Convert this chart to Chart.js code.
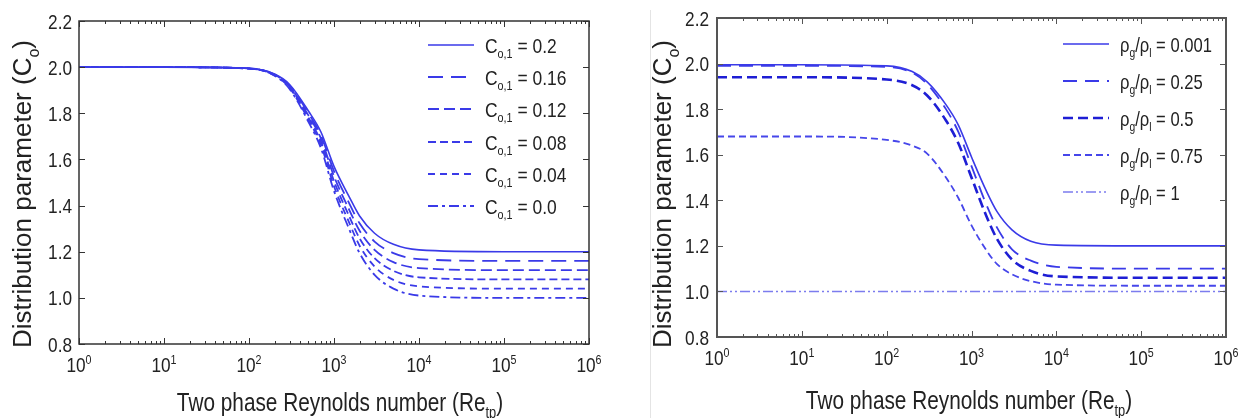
<!DOCTYPE html>
<html>
<head>
<meta charset="utf-8">
<script src="https://cdn.jsdelivr.net/npm/chart.js@4.4.1/dist/chart.umd.min.js"></script>
<style>
  html, body { margin: 0; padding: 0; background: #fff; }
  #wrap { position: relative; width: 1241px; height: 418px; overflow: hidden; }
  #leftChart { position: absolute; left: 0; top: 0; }
  #rightChart { position: absolute; left: 620px; top: 0; }
</style>
</head>
<body>
<div id="wrap">
  <canvas id="leftChart" width="620" height="418"></canvas>
  <canvas id="rightChart" width="621" height="418"></canvas>
</div>
<script>
const FONT = '"Liberation Sans", Arial, sans-serif';

const reynolds = [1, 10, 100, 200, 300, 500, 700, 1000, 1500, 2000, 3000, 5000, 10000, 100000, 1000000];
const decades = [0, 1, 2, 3, 4, 5, 6];
const yTicks = [0.8, 1.0, 1.2, 1.4, 1.6, 1.8, 2.0, 2.2];

// left panel: C_o,1 series
const co1Labels = ['0.2', '0.16', '0.12', '0.08', '0.04', '0.0'];
const co1_020 = [2.0, 2.0, 1.995, 1.97, 1.925, 1.81, 1.72, 1.57, 1.44, 1.355, 1.28, 1.232, 1.208, 1.2, 1.2];
const co1_016 = [2.0, 2.0, 1.995, 1.968, 1.921, 1.80, 1.706, 1.549, 1.412, 1.323, 1.244, 1.194, 1.168, 1.16, 1.16];
const co1_012 = [2.0, 2.0, 1.995, 1.967, 1.917, 1.791, 1.692, 1.527, 1.384, 1.291, 1.208, 1.155, 1.129, 1.12, 1.12];
const co1_008 = [2.0, 2.0, 1.994, 1.966, 1.914, 1.782, 1.678, 1.506, 1.356, 1.258, 1.172, 1.117, 1.089, 1.08, 1.08];
const co1_004 = [2.0, 2.0, 1.994, 1.964, 1.91, 1.772, 1.664, 1.484, 1.328, 1.226, 1.136, 1.078, 1.05, 1.04, 1.04];
const co1_000 = [2.0, 2.0, 1.994, 1.963, 1.906, 1.763, 1.65, 1.463, 1.30, 1.194, 1.10, 1.04, 1.01, 1.0, 1.0];

// right panel: density ratio series
const ratioLabels = ['0.001', '0.25', '0.5', '0.75', '1'];
const ratio_0001 = [1.995, 1.995, 1.99, 1.965, 1.92, 1.82, 1.73, 1.59, 1.44, 1.35, 1.27, 1.22, 1.203, 1.2, 1.2];
const ratio_025 = [1.99, 1.99, 1.985, 1.96, 1.91, 1.80, 1.70, 1.55, 1.38, 1.28, 1.185, 1.135, 1.108, 1.10, 1.10];
const ratio_05 = [1.94, 1.94, 1.93, 1.905, 1.86, 1.75, 1.65, 1.50, 1.33, 1.23, 1.14, 1.09, 1.066, 1.06, 1.06];
const ratio_075 = [1.68, 1.68, 1.665, 1.64, 1.605, 1.50, 1.41, 1.29, 1.18, 1.12, 1.075, 1.045, 1.03, 1.025, 1.025];
const ratio_1 = [1.0, 1.0, 1.0, 1.0, 1.0, 1.0, 1.0, 1.0, 1.0, 1.0, 1.0, 1.0, 1.0, 1.0, 1.0];

const BLUE = '#3a3ae8';
const toPoints = vals => reynolds.map((re, i) => ({ x: re, y: vals[i] }));

// text pieces, some as sub/superscript; sx squeezes the run horizontally
function measureParts(ctx, parts, size) {
    let w = 0;
    parts.forEach(p => {
        const s = (p.sub || p.sup) ? size * 0.62 : size;
        ctx.font = s + 'px ' + FONT;
        w += ctx.measureText(p.t).width;
    });
    return w;
}

function drawParts(ctx, parts, x, y, size, align, sx) {
    sx = sx || 1;
    const total = measureParts(ctx, parts, size) * sx;
    const left = align === 'center' ? x - total / 2 : (align === 'right' ? x - total : x);
    ctx.save();
    ctx.translate(left, y);
    ctx.scale(sx, 1);
    ctx.textAlign = 'left';
    ctx.textBaseline = 'alphabetic';
    let cx = 0;
    parts.forEach(p => {
        const s = (p.sub || p.sup) ? size * 0.62 : size;
        const dy = p.sub ? size * 0.28 : (p.sup ? -size * 0.4 : 0);
        ctx.font = s + 'px ' + FONT;
        ctx.fillText(p.t, cx, dy);
        cx += ctx.measureText(p.t).width;
    });
    ctx.restore();
}

const framePlugin = {
    id: 'frame',
    afterDatasetsDraw(chart, args, o) {
        const { ctx, chartArea: a } = chart;
        const x = chart.scales.x, y = chart.scales.y;
        const seg = (x1, y1, x2, y2) => { ctx.beginPath(); ctx.moveTo(x1, y1); ctx.lineTo(x2, y2); ctx.stroke(); };
        ctx.save();

        if (o.edgeLine) {
            ctx.strokeStyle = '#e4e4e4';
            ctx.lineWidth = 1;
            seg(o.edgeLine + 0.5, 10, o.edgeLine + 0.5, 418);
        }

        // inside ticks on all four sides
        ctx.strokeStyle = o.axisColor;
        ctx.lineWidth = 1;
        decades.forEach(d => {
            for (let m = 1; m <= 9; m++) {
                if (d === 6 && m > 1) break;
                const px = Math.round(x.getPixelForValue(m * Math.pow(10, d))) + 0.5;
                const len = m === 1 ? 6 : 3;
                seg(px, a.bottom, px, a.bottom - len);
                seg(px, a.top, px, a.top + len);
            }
        });
        yTicks.forEach(v => {
            const py = Math.round(y.getPixelForValue(v)) + 0.5;
            seg(a.left, py, a.left + 6, py);
            seg(a.right, py, a.right - 6, py);
        });

        ctx.lineWidth = o.borderWidth;
        ctx.strokeRect(a.left, a.top, a.right - a.left, a.bottom - a.top);

        // tick labels
        ctx.fillStyle = '#222';
        yTicks.forEach(v => {
            drawParts(ctx, [{ t: v.toFixed(1) }], o.yLabelRight, y.getPixelForValue(v) + o.tickSize * 0.36,
                o.tickSize, 'right', o.squeeze);
        });
        decades.forEach(d => {
            const px = x.getPixelForValue(Math.pow(10, d));
            drawParts(ctx, [{ t: '10' }, { t: String(d), sup: true }], px, o.xLabelBase, o.tickSize, 'center', o.squeeze);
        });

        // axis titles
        drawParts(ctx, [{ t: 'Two phase Reynolds number (Re' }, { t: 'tp', sub: true }, { t: ')' }],
            o.xTitle[0], o.xTitle[1], o.titleSize, 'center', 0.8);
        ctx.save();
        ctx.translate(o.yTitle[0], o.yTitle[1]);
        ctx.rotate(-Math.PI / 2);
        drawParts(ctx, [{ t: 'Distribution parameter (C' }, { t: 'o', sub: true }, { t: ')' }],
            0, o.titleSize * 0.36, o.titleSize, 'center', 1);
        ctx.restore();

        // legend
        chart.data.datasets.forEach((ds, i) => {
            const ly = o.legend.rows[i];
            ctx.save();
            ctx.strokeStyle = ds.borderColor;
            ctx.lineWidth = ds.borderWidth;
            ctx.setLineDash(ds.borderDash || []);
            seg(o.legend.x0, ly, o.legend.x1, ly);
            ctx.restore();
            ctx.fillStyle = '#222';
            drawParts(ctx, ds.legendParts, o.legend.tx, ly + o.legendSize * 0.36, o.legendSize, 'left', o.legend.squeeze);
        });
        ctx.restore();
    }
};

function makeOptions(pad, frame) {
    return {
        responsive: false,
        animation: false,
        devicePixelRatio: 1,
        layout: { padding: pad },
        elements: { point: { radius: 0 }, line: { cubicInterpolationMode: 'monotone', fill: false } },
        plugins: { legend: { display: false }, tooltip: { enabled: false }, frame: frame },
        scales: {
            x: { type: 'logarithmic', min: 1, max: 1000000, display: false },
            y: { type: 'linear', min: 0.8, max: 2.2, display: false }
        }
    };
}

const coParts = lbl => [{ t: 'C' }, { t: 'o,1', sub: true }, { t: ' = ' + lbl }];
const rhoParts = lbl => [{ t: 'ρ' }, { t: 'g', sub: true }, { t: '/ρ' }, { t: 'l', sub: true }, { t: ' = ' + lbl }];

const leftStyles = [
    { dash: [], width: 1.6 },
    { dash: [15, 8], width: 1.8 },
    { dash: [11, 5], width: 1.8 },
    { dash: [8, 4], width: 1.8 },
    { dash: [7, 5], width: 1.8 },
    { dash: [10, 4, 3, 4], width: 1.8 }
];
const leftSeries = [co1_020, co1_016, co1_012, co1_008, co1_004, co1_000];

new Chart(document.getElementById('leftChart'), {
    type: 'line',
    data: {
        datasets: leftSeries.map((vals, i) => ({
            label: 'C o,1 = ' + co1Labels[i],
            legendParts: coParts(co1Labels[i]),
            data: toPoints(vals),
            borderColor: BLUE,
            borderWidth: leftStyles[i].width,
            borderDash: leftStyles[i].dash
        }))
    },
    options: makeOptions({ left: 79, top: 21, right: 31, bottom: 74 }, {
        axisColor: '#333', borderWidth: 1.5, tickSize: 21, titleSize: 26, legendSize: 21, squeeze: 0.82,
        yLabelRight: 72, xLabelBase: 372, xTitle: [340, 411], yTitle: [22, 194],
        legend: { x0: 428, x1: 474, tx: 485, squeeze: 0.83, rows: [45, 77, 109, 142, 174, 206] }
    }),
    plugins: [framePlugin]
});

const rightStyles = [
    { dash: [], width: 1.6, color: BLUE },
    { dash: [14, 8], width: 1.8, color: BLUE },
    { dash: [10, 5], width: 2.6, color: '#1e1ed4' },
    { dash: [7, 4], width: 1.8, color: '#4646ea' },
    { dash: [10, 3, 2, 3, 2, 3], width: 1.6, color: '#7c7cee' }
];
const rightSeries = [ratio_0001, ratio_025, ratio_05, ratio_075, ratio_1];

new Chart(document.getElementById('rightChart'), {
    type: 'line',
    data: {
        datasets: rightSeries.map((vals, i) => ({
            label: 'ρg/ρl = ' + ratioLabels[i],
            legendParts: rhoParts(ratioLabels[i]),
            data: toPoints(vals),
            borderColor: rightStyles[i].color,
            borderWidth: rightStyles[i].width,
            borderDash: rightStyles[i].dash
        }))
    },
    options: makeOptions({ left: 97, top: 18, right: 15, bottom: 81 }, {
        axisColor: '#555', borderWidth: 2, tickSize: 21, titleSize: 26, legendSize: 21, squeeze: 0.82,
        yLabelRight: 89, xLabelBase: 365, xTitle: [349, 409], yTitle: [42, 194], edgeLine: 30,
        legend: { x0: 443, x1: 489, tx: 500, squeeze: 0.79, rows: [44, 81, 118, 155, 192] }
    }),
    plugins: [framePlugin]
});
</script>
</body>
</html>
